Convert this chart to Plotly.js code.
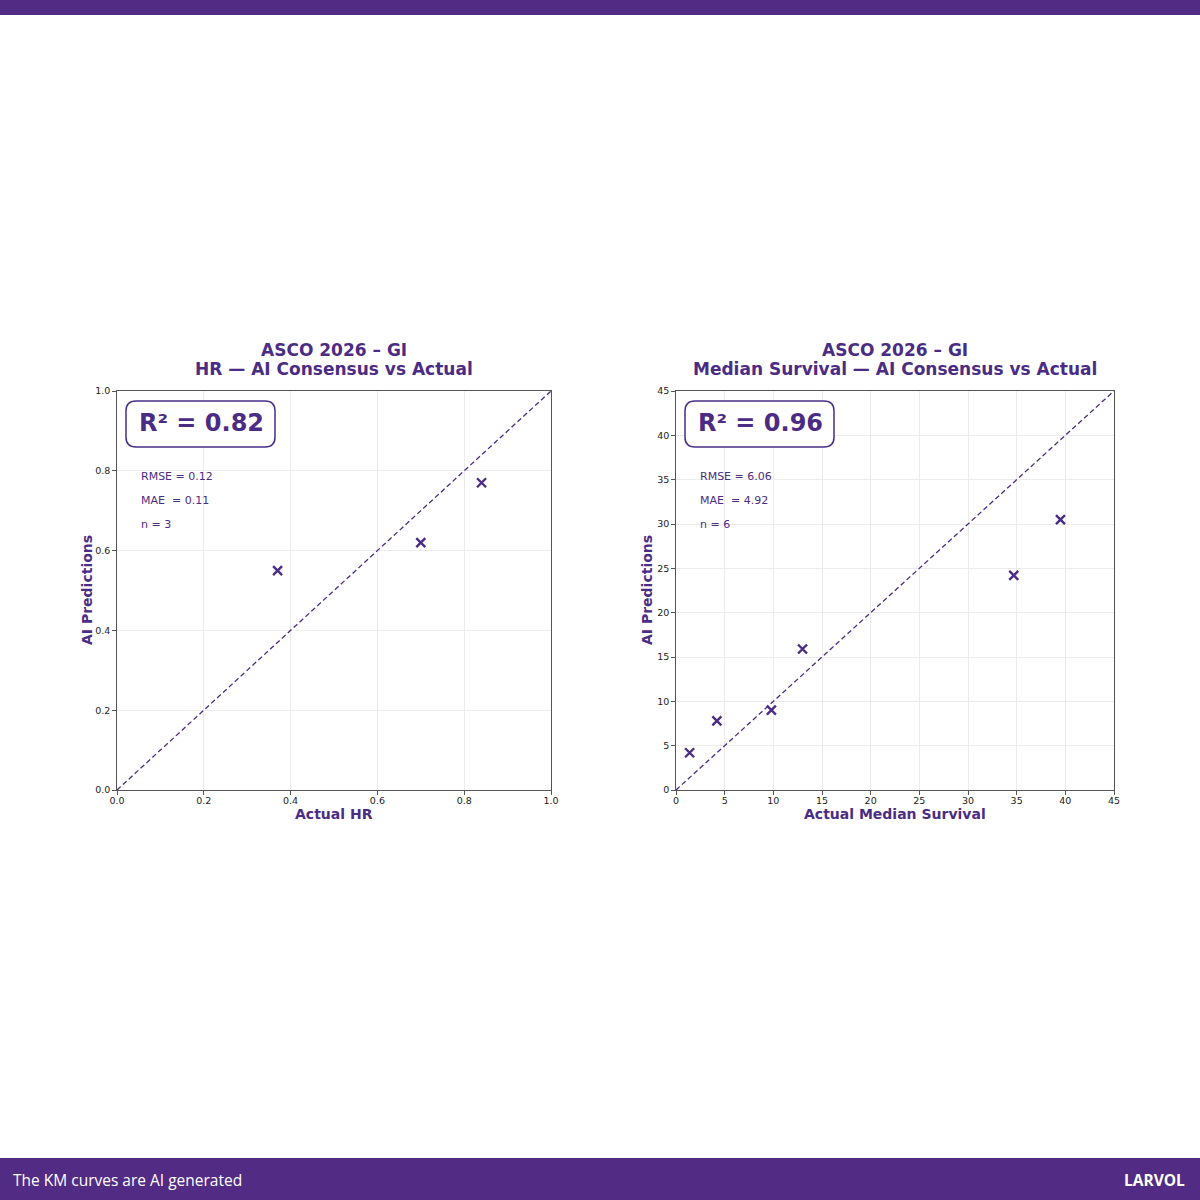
<!DOCTYPE html>
<html>
<head>
<meta charset="utf-8">
<script src="https://cdn.plot.ly/plotly-3.0.1.min.js"></script>
<style>html,body{margin:0;padding:0;background:#fff;}#chart{width:1200px;height:1200px;}</style>
</head>
<body>
<div id="chart"></div>
<script>
// ---- data ----
const hrActual = [0.37, 0.70, 0.84];
const hrPredicted = [0.55, 0.62, 0.77];
const msActual = [1.4, 4.2, 9.8, 13.0, 34.7, 39.5];
const msPredicted = [4.2, 7.8, 9.0, 15.9, 24.2, 30.5];
const hrRange = [0, 1];
const msRange = [0, 45];
const hrStats = ["RMSE = 0.12", "MAE  = 0.11", "n = 3"];
const msStats = ["RMSE = 6.06", "MAE  = 4.92", "n = 6"];
const hrR2 = "R² = 0.82";
const msR2 = "R² = 0.96";
const titleTop = "ASCO 2026 – GI";
const hrTitle = "HR — AI Consensus vs Actual";
const msTitle = "Median Survival — AI Consensus vs Actual";
const hrXLabel = "Actual HR";
const msXLabel = "Actual Median Survival";
const yLabel = "AI Predictions";
const footerText = "The KM curves are AI generated";
const brand = "LARVOL";

const PURPLE = "#4b2c85";
const BAR = "#512b84";
const FONT = "DejaVu Sans, sans-serif";

const W = 1200, H = 1200;
const px = v => v / W;
const py = v => 1 - v / H;

const traces = [
  {x: hrRange, y: hrRange, xaxis: "x", yaxis: "y", mode: "lines",
   line: {color: PURPLE, width: 1.3, dash: "5px,3px"}, hoverinfo: "skip"},
  {x: hrActual, y: hrPredicted, xaxis: "x", yaxis: "y", mode: "markers",
   marker: {symbol: "x-thin", size: 9, line: {color: PURPLE, width: 2.4}, color: PURPLE}},
  {x: msRange, y: msRange, xaxis: "x2", yaxis: "y2", mode: "lines",
   line: {color: PURPLE, width: 1.3, dash: "5px,3px"}, hoverinfo: "skip"},
  {x: msActual, y: msPredicted, xaxis: "x2", yaxis: "y2", mode: "markers",
   marker: {symbol: "x-thin", size: 9, line: {color: PURPLE, width: 2.4}, color: PURPLE}}
];

function axis(domain, range, dtick, fmt, anchor, isX) {
  return {
    domain: domain, range: range, dtick: dtick, tick0: 0, tickformat: fmt,
    anchor: anchor, showline: true, mirror: true, linecolor: "#555", linewidth: 1.2,
    showgrid: true, gridcolor: "#ececec", gridwidth: 1, zeroline: false,
    ticks: "outside", ticklen: 3.5, tickcolor: "#555", tickwidth: 1,
    ticklabelstandoff: isX ? -2 : 0,
    tickfont: {family: FONT, size: 9.5, color: "#222"}, fixedrange: true
  };
}

const yDom = [py(790), py(391)];
const layout = {
  width: W, height: H, margin: {l: 0, r: 0, t: 0, b: 0},
  paper_bgcolor: "#fff", plot_bgcolor: "#fff", showlegend: false,
  xaxis: axis([px(117), px(551)], hrRange, 0.2, ".1f", "y", true),
  yaxis: axis(yDom, hrRange, 0.2, ".1f", "x", false),
  xaxis2: axis([px(676), px(1114)], msRange, 5, "d", "y2", true),
  yaxis2: axis(yDom, msRange, 5, "d", "x2", false),
  shapes: [],
  annotations: []
};

// bars
layout.shapes.push({type: "rect", xref: "paper", yref: "paper", x0: 0, x1: 1, y0: py(15), y1: 1, fillcolor: BAR, line: {width: 0}, layer: "above"});
layout.shapes.push({type: "rect", xref: "paper", yref: "paper", x0: 0, x1: 1, y0: 0, y1: py(1158), fillcolor: BAR, line: {width: 0}, layer: "above"});

// rounded boxes in pixel terms converted to paper
function roundBox(x0, y0, x1, y1, r) {
  const X0 = px(x0), X1 = px(x1), Y0 = py(y0), Y1 = py(y1);
  const rx = r / W, ry = r / H;
  const path = `M ${X0 + rx},${Y0} L ${X1 - rx},${Y0} Q ${X1},${Y0} ${X1},${Y0 - ry} L ${X1},${Y1 + ry} Q ${X1},${Y1} ${X1 - rx},${Y1} L ${X0 + rx},${Y1} Q ${X0},${Y1} ${X0},${Y1 + ry} L ${X0},${Y0 - ry} Q ${X0},${Y0} ${X0 + rx},${Y0} Z`;
  return {type: "path", xref: "paper", yref: "paper", path: path, fillcolor: "#fff", line: {color: PURPLE, width: 1.5}, layer: "above"};
}
layout.shapes.push(roundBox(126, 401, 275, 447, 10));
layout.shapes.push(roundBox(685, 401, 834, 447, 10));

function ann(text, x, y, opts) {
  return Object.assign({text: text, xref: "paper", yref: "paper", x: px(x), y: py(y), showarrow: false,
    xanchor: "center", yanchor: "middle", font: {family: FONT, size: 12, color: PURPLE}}, opts || {});
}
const A = layout.annotations;
// titles
A.push(ann("<b>" + titleTop + "</b>", 334, 350, {font: {family: FONT, size: 17, color: PURPLE}}));
A.push(ann("<b>" + hrTitle + "</b>", 334, 369, {font: {family: FONT, size: 17, color: PURPLE}}));
A.push(ann("<b>" + titleTop + "</b>", 895, 350, {font: {family: FONT, size: 17, color: PURPLE}}));
A.push(ann("<b>" + msTitle + "</b>", 895, 369, {font: {family: FONT, size: 17, color: PURPLE}}));
// axis labels
A.push(ann("<b>" + hrXLabel + "</b>", 334, 814, {font: {family: FONT, size: 14, color: PURPLE}}));
A.push(ann("<b>" + msXLabel + "</b>", 895, 814, {font: {family: FONT, size: 14, color: PURPLE}}));
A.push(ann("<b>" + yLabel + "</b>", 87, 590, {textangle: -90, font: {family: FONT, size: 14, color: PURPLE}}));
A.push(ann("<b>" + yLabel + "</b>", 647, 590, {textangle: -90, font: {family: FONT, size: 14, color: PURPLE}}));
// R2
A.push(ann("<b>" + hrR2 + "</b>", 201, 423, {font: {family: FONT, size: 24, color: PURPLE}}));
A.push(ann("<b>" + msR2 + "</b>", 760, 423, {font: {family: FONT, size: 24, color: PURPLE}}));
// stats
const statY = [476, 500, 524];
hrStats.forEach((s, i) => A.push(ann(s.replace(/  /g, " &nbsp;"), 139, statY[i], {xanchor: "left", font: {family: FONT, size: 11, color: PURPLE}})));
msStats.forEach((s, i) => A.push(ann(s.replace(/  /g, " &nbsp;"), 698, statY[i], {xanchor: "left", font: {family: FONT, size: 11, color: PURPLE}})));
// footer
A.push(ann(footerText, 11, 1180, {xanchor: "left", font: {family: "Open Sans, sans-serif", size: 15.5, color: "#fff"}}));
A.push(ann("<b>" + brand + "</b>", 1187, 1180, {xanchor: "right", font: {family: "Open Sans, sans-serif", size: 15.5, color: "#fff"}}));

Plotly.newPlot("chart", traces, layout, {displayModeBar: false, staticPlot: true});
</script>
</body>
</html>
